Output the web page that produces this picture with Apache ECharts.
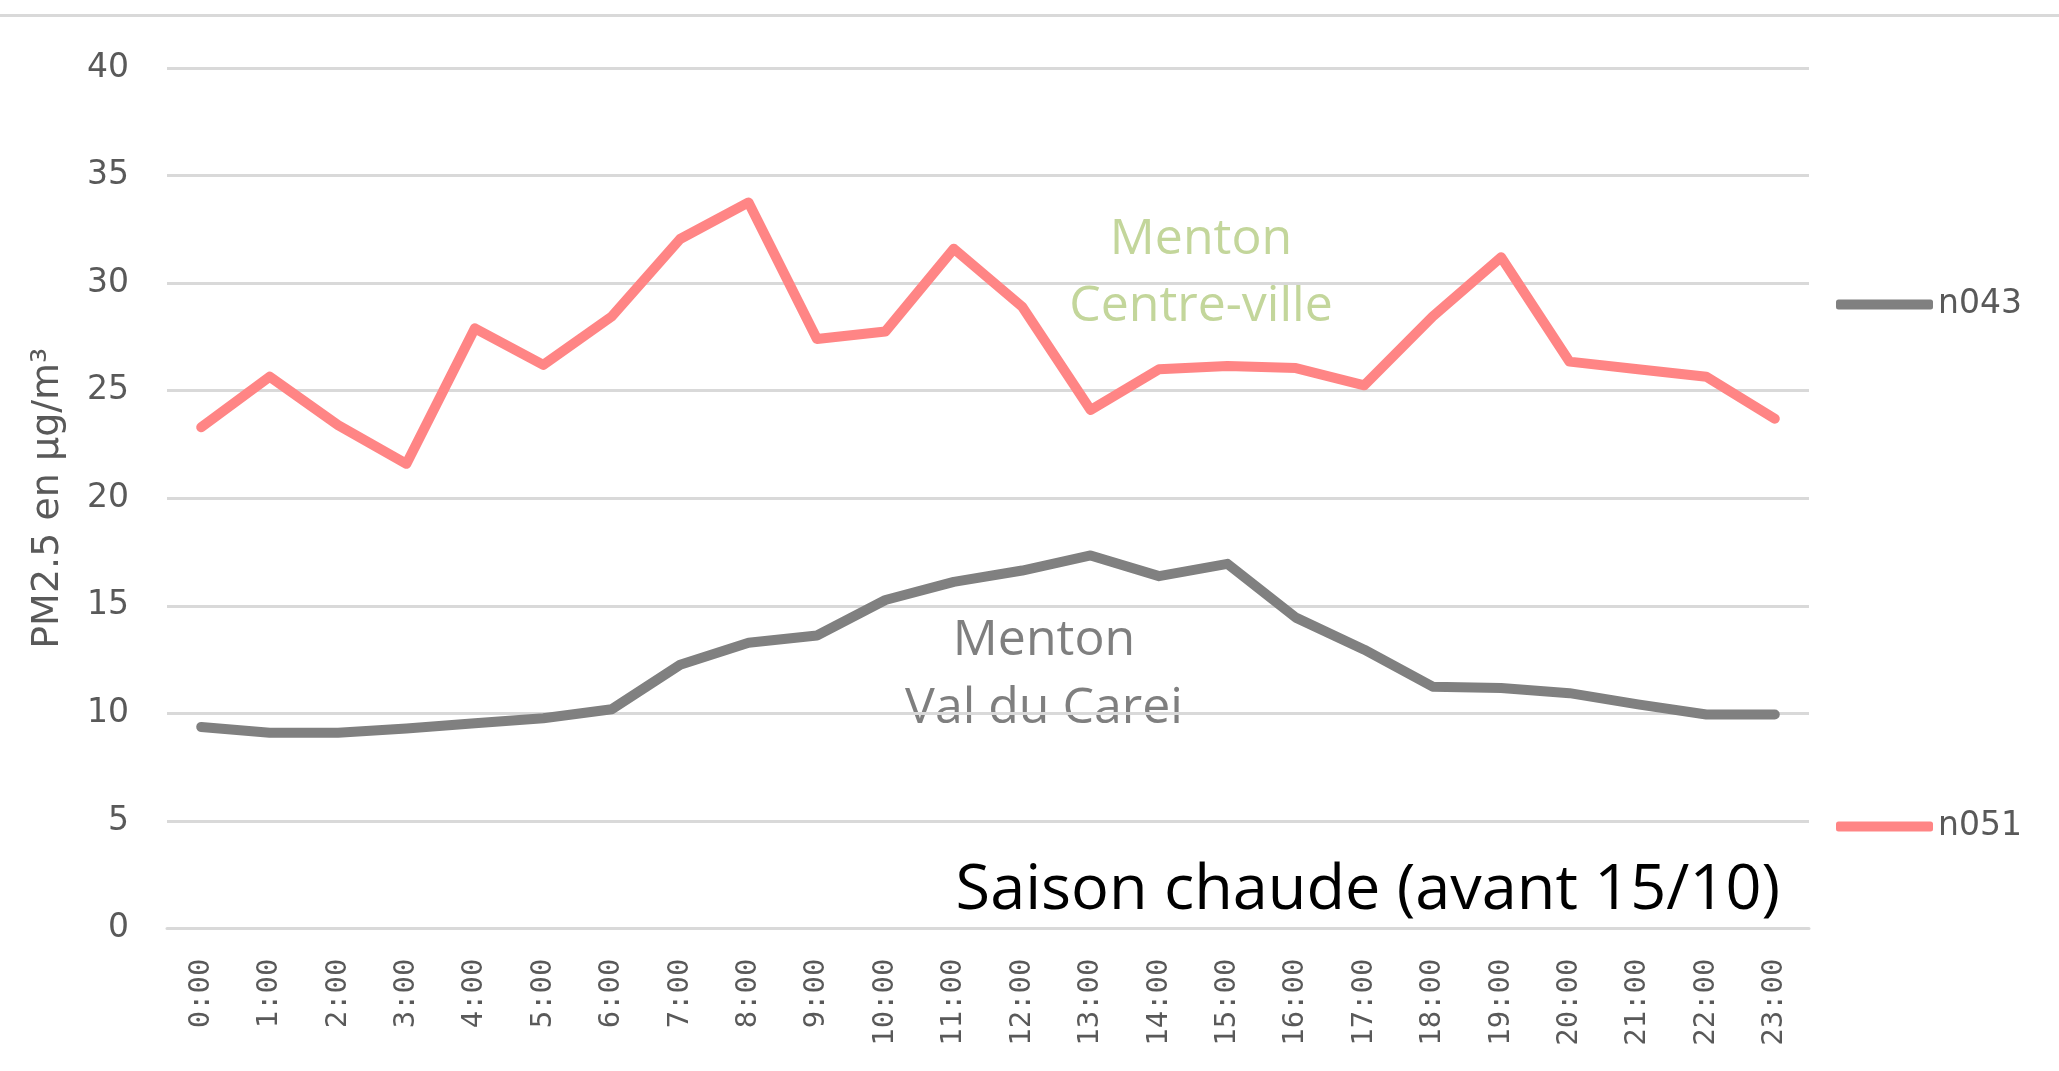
<!DOCTYPE html>
<html>
<head>
<meta charset="utf-8">
<script src="https://cdn.jsdelivr.net/npm/echarts@6/dist/echarts.min.js"></script>
<style>
  html, body { margin: 0; padding: 0; background: #ffffff; }
  #chart { width: 2059px; height: 1071px; }
</style>
</head>
<body>
<div id="chart"></div>
<script>
const hours = ['0:00','1:00','2:00','3:00','4:00','5:00','6:00','7:00','8:00','9:00','10:00','11:00',
               '12:00','13:00','14:00','15:00','16:00','17:00','18:00','19:00','20:00','21:00','22:00','23:00'];
const n043 = [9.37, 9.1, 9.1, 9.3, 9.54, 9.77, 10.19, 12.26, 13.28, 13.62, 15.27, 16.11,
              16.64, 17.34, 16.38, 16.95, 14.45, 12.96, 11.24, 11.18, 10.94, 10.42, 9.95, 9.95];
const n051 = [23.3, 25.65, 23.4, 21.6, 27.9, 26.2, 28.45, 32.05, 33.75, 27.4, 27.75, 31.6,
              28.9, 24.1, 26.0, 26.15, 26.05, 25.25, 28.45, 31.2, 26.35, 26.0, 25.65, 23.7];
const yMin = 0, yMax = 40, yStep = 5;
const yTitle = 'PM2.5 en µg/m³';
const labelCentre = ['Menton', 'Centre-ville'];
const labelCarei = ['Menton', 'Val du Carei'];
const seasonLabel = 'Saison chaude (avant 15/10)';

const chart = echarts.init(document.getElementById('chart'), null, { renderer: 'canvas' });
const legendText = { fontFamily: 'DejaVu Sans', fontSize: 33, color: '#595959' };

chart.setOption({
  animation: false,
  backgroundColor: '#ffffff',
  grid: { left: 167, right: 250, top: 68, bottom: 142.5 },
  legend: [
    { data: ['n043'], orient: 'vertical', left: 1831, top: 283, icon: 'roundRect',
      itemWidth: 97, itemHeight: 10, itemGap: 6, textStyle: legendText },
    { data: ['n051'], orient: 'vertical', left: 1831, top: 805, icon: 'roundRect',
      itemWidth: 97, itemHeight: 10, itemGap: 6, textStyle: legendText }
  ],
  xAxis: {
    type: 'category',
    data: hours,
    boundaryGap: true,
    axisLine: { show: true, lineStyle: { color: '#d9d9d9', width: 3 } },
    axisTick: { show: false },
    axisLabel: { rotate: 90, interval: 0, margin: 30, fontFamily: 'DejaVu Sans Mono', fontSize: 29, color: '#595959' }
  },
  yAxis: {
    type: 'value',
    min: yMin, max: yMax, interval: yStep,
    name: yTitle,
    nameLocation: 'middle',
    nameRotate: 90,
    nameGap: 100,
    nameTextStyle: { fontFamily: 'DejaVu Sans', fontSize: 38, color: '#595959' },
    axisLine: { show: false },
    axisTick: { show: false },
    axisLabel: { margin: 38, fontFamily: 'DejaVu Sans', fontSize: 33, color: '#595959' },
    splitLine: { lineStyle: { color: '#d9d9d9', width: 3 } }
  },
  series: [
    { name: 'n043', type: 'line', data: n043, symbol: 'none', color: '#808080',
      lineStyle: { width: 10, color: '#808080', cap: 'round', join: 'round' } },
    { name: 'n051', type: 'line', data: n051, symbol: 'none', color: '#ff8585',
      lineStyle: { width: 10, color: '#ff8585', cap: 'round', join: 'round' } }
  ],
  graphic: [
    { type: 'rect', shape: { x: 0, y: 14, width: 2059, height: 3 }, style: { fill: '#d9d9d9' }, silent: true },
    { type: 'text', style: { text: labelCentre[0], x: 1201, y: 240, align: 'center', verticalAlign: 'middle',
        font: '50px "Open Sans"', fill: '#c3d69b' } },
    { type: 'text', style: { text: labelCentre[1], x: 1201, y: 307, align: 'center', verticalAlign: 'middle',
        font: '50px "Open Sans"', fill: '#c3d69b' } },
    { type: 'text', style: { text: labelCarei[0], x: 1044, y: 641, align: 'center', verticalAlign: 'middle',
        font: '50px "Open Sans"', fill: '#7f7f7f' } },
    { type: 'text', style: { text: labelCarei[1], x: 1044, y: 709, align: 'center', verticalAlign: 'middle',
        font: '50px "Open Sans"', fill: '#7f7f7f' } },
    { type: 'text', style: { text: seasonLabel, x: 1780, y: 891, align: 'right', verticalAlign: 'middle',
        font: '63px "Open Sans"', fill: '#000000' } }
  ]
});
</script>
</body>
</html>
